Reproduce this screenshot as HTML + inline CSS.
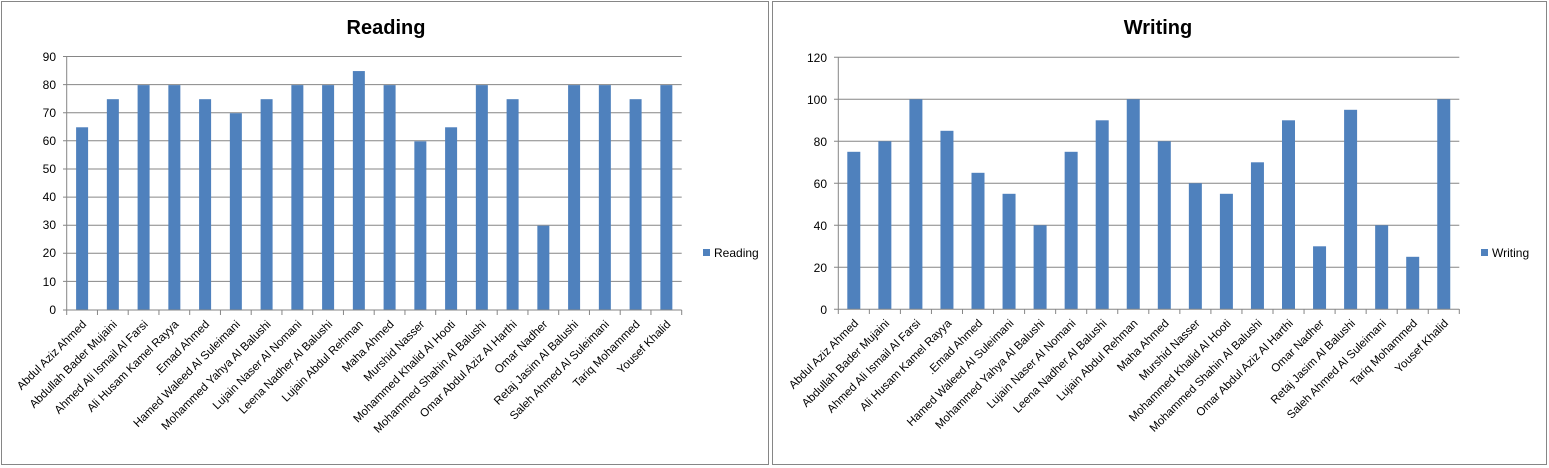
<!DOCTYPE html>
<html><head><meta charset="utf-8"><style>
html,body{margin:0;padding:0;background:#fff;}
svg{display:block;font-family:"Liberation Sans",Arial,sans-serif;}
</style></head><body>
<svg width="1549" height="468" viewBox="0 0 1549 468" xmlns="http://www.w3.org/2000/svg">
<rect x="0" y="0" width="1549" height="468" fill="#fff"/>
<rect x="1.5" y="1.5" width="767" height="463" fill="none" stroke="#868686"/>
<rect x="772.5" y="1.5" width="774" height="463" fill="none" stroke="#868686"/>

<!-- LEFT CHART -->
<text x="386" y="34" font-size="20" font-weight="bold" text-anchor="middle" fill="#000">Reading</text>
<g stroke="#868686" stroke-width="1">
<line x1="63" y1="56.5" x2="681.7" y2="56.5"/><line x1="63" y1="84.6" x2="681.7" y2="84.6"/>
<line x1="63" y1="112.7" x2="681.7" y2="112.7"/><line x1="63" y1="140.8" x2="681.7" y2="140.8"/>
<line x1="63" y1="169" x2="681.7" y2="169"/><line x1="63" y1="197.1" x2="681.7" y2="197.1"/>
<line x1="63" y1="225.2" x2="681.7" y2="225.2"/><line x1="63" y1="253.3" x2="681.7" y2="253.3"/>
<line x1="63" y1="281.4" x2="681.7" y2="281.4"/>
</g>
<g font-size="12" fill="#000" text-anchor="end">
<text x="56" y="61">90</text><text x="56" y="89">80</text><text x="56" y="117">70</text><text x="56" y="145">60</text><text x="56" y="173">50</text><text x="56" y="201">40</text><text x="56" y="229">30</text><text x="56" y="257">20</text><text x="56" y="286">10</text><text x="56" y="314">0</text>
</g>
<g transform="translate(76.1,310) scale(1,-2.811)" fill="#4f81bd">
<rect x="0" y="0" width="12" height="65"/><rect x="30.75" width="12" height="75"/><rect x="61.5" width="12" height="80"/><rect x="92.25" width="12" height="80"/><rect x="123" width="12" height="75"/><rect x="153.75" width="12" height="70"/><rect x="184.5" width="12" height="75"/><rect x="215.25" width="12" height="80"/><rect x="246" width="12" height="80"/><rect x="276.75" width="12" height="85"/><rect x="307.5" width="12" height="80"/><rect x="338.25" width="12" height="60"/><rect x="369" width="12" height="65"/><rect x="399.75" width="12" height="80"/><rect x="430.5" width="12" height="75"/><rect x="461.25" width="12" height="30"/><rect x="492" width="12" height="80"/><rect x="522.75" width="12" height="80"/><rect x="553.5" width="12" height="75"/><rect x="584.25" width="12" height="80"/>
</g>
<g stroke="#868686" stroke-width="1">
<line x1="66.7" y1="56" x2="66.7" y2="310"/><line x1="63" y1="310" x2="681.7" y2="310"/>
<g transform="translate(66.7,0)">
<line x1="0" y1="310" x2="0" y2="315"/><line x1="30.75" y1="310" x2="30.75" y2="315"/><line x1="61.5" y1="310" x2="61.5" y2="315"/><line x1="92.25" y1="310" x2="92.25" y2="315"/><line x1="123" y1="310" x2="123" y2="315"/><line x1="153.75" y1="310" x2="153.75" y2="315"/><line x1="184.5" y1="310" x2="184.5" y2="315"/><line x1="215.25" y1="310" x2="215.25" y2="315"/><line x1="246" y1="310" x2="246" y2="315"/><line x1="276.75" y1="310" x2="276.75" y2="315"/><line x1="307.5" y1="310" x2="307.5" y2="315"/><line x1="338.25" y1="310" x2="338.25" y2="315"/><line x1="369" y1="310" x2="369" y2="315"/><line x1="399.75" y1="310" x2="399.75" y2="315"/><line x1="430.5" y1="310" x2="430.5" y2="315"/><line x1="461.25" y1="310" x2="461.25" y2="315"/><line x1="492" y1="310" x2="492" y2="315"/><line x1="522.75" y1="310" x2="522.75" y2="315"/><line x1="553.5" y1="310" x2="553.5" y2="315"/><line x1="584.25" y1="310" x2="584.25" y2="315"/><line x1="615" y1="310" x2="615" y2="315"/>
</g></g>
<g transform="translate(87,325)" font-size="11.5" fill="#000" text-anchor="end">
<text transform="translate(0,0) rotate(-45)">Abdul Aziz Ahmed</text>
<text transform="translate(30.75,0) rotate(-45)">Abdullah Bader Mujaini</text>
<text transform="translate(61.5,0) rotate(-45)">Ahmed Ali Ismail  Al Farsi</text>
<text transform="translate(92.25,0) rotate(-45)">Ali Husam Kamel Rayya</text>
<text transform="translate(123,0) rotate(-45)">.Emad Ahmed</text>
<text transform="translate(153.75,0) rotate(-45)">Hamed Waleed Al Suleimani</text>
<text transform="translate(184.5,0) rotate(-45)">Mohammed  Yahya Al Balushi</text>
<text transform="translate(215.25,0) rotate(-45)">Lujain Naser Al Nomani</text>
<text transform="translate(246,0) rotate(-45)">Leena Nadher Al Balushi</text>
<text transform="translate(276.75,0) rotate(-45)">Lujain  Abdul Rehman</text>
<text transform="translate(307.5,0) rotate(-45)">Maha Ahmed</text>
<text transform="translate(338.25,0) rotate(-45)">Murshid Nasser</text>
<text transform="translate(369,0) rotate(-45)">Mohammed Khalid Al Hooti</text>
<text transform="translate(399.75,0) rotate(-45)">Mohammed Shahin Al Balushi</text>
<text transform="translate(430.5,0) rotate(-45)">Omar Abdul Aziz Al Harthi</text>
<text transform="translate(461.25,0) rotate(-45)">Omar Nadher</text>
<text transform="translate(492,0) rotate(-45)">Retaj Jasim Al Balushi</text>
<text transform="translate(522.75,0) rotate(-45)">Saleh Ahmed Al Suleimani</text>
<text transform="translate(553.5,0) rotate(-45)">Tariq Mohammed</text>
<text transform="translate(584.25,0) rotate(-45)">Yousef Khalid</text>
</g>
<rect x="703" y="249" width="7" height="7" fill="#4f81bd"/>
<text x="714" y="257" font-size="12" fill="#000">Reading</text>

<!-- RIGHT CHART -->
<text x="1158" y="34" font-size="20" font-weight="bold" text-anchor="middle" fill="#000">Writing</text>
<g stroke="#868686" stroke-width="1">
<line x1="834" y1="57.3" x2="1459.3" y2="57.3"/><line x1="834" y1="99.3" x2="1459.3" y2="99.3"/>
<line x1="834" y1="141.3" x2="1459.3" y2="141.3"/><line x1="834" y1="183.3" x2="1459.3" y2="183.3"/>
<line x1="834" y1="225.3" x2="1459.3" y2="225.3"/><line x1="834" y1="267.3" x2="1459.3" y2="267.3"/>
</g>
<g font-size="12" fill="#000" text-anchor="end">
<text x="827" y="62">120</text><text x="827" y="104">100</text><text x="827" y="146">80</text><text x="827" y="188">60</text><text x="827" y="230">40</text><text x="827" y="272">20</text><text x="827" y="314">0</text>
</g>
<g transform="translate(847.3,309.3) scale(1,-2.1)" fill="#4f81bd">
<rect x="0" width="13" height="75"/><rect x="31.05" width="13" height="80"/><rect x="62.1" width="13" height="100"/><rect x="93.15" width="13" height="85"/><rect x="124.2" width="13" height="65"/><rect x="155.25" width="13" height="55"/><rect x="186.3" width="13" height="40"/><rect x="217.35" width="13" height="75"/><rect x="248.4" width="13" height="90"/><rect x="279.45" width="13" height="100"/><rect x="310.5" width="13" height="80"/><rect x="341.55" width="13" height="60"/><rect x="372.6" width="13" height="55"/><rect x="403.65" width="13" height="70"/><rect x="434.7" width="13" height="90"/><rect x="465.75" width="13" height="30"/><rect x="496.8" width="13" height="95"/><rect x="527.85" width="13" height="40"/><rect x="558.9" width="13" height="25"/><rect x="589.95" width="13" height="100"/>
</g>
<g stroke="#868686" stroke-width="1">
<line x1="838.3" y1="57" x2="838.3" y2="309.3"/><line x1="834" y1="309.3" x2="1459.3" y2="309.3"/>
<g transform="translate(838.3,0)">
<line x1="0" y1="309" x2="0" y2="314"/><line x1="31.05" y1="309" x2="31.05" y2="314"/><line x1="62.1" y1="309" x2="62.1" y2="314"/><line x1="93.15" y1="309" x2="93.15" y2="314"/><line x1="124.2" y1="309" x2="124.2" y2="314"/><line x1="155.25" y1="309" x2="155.25" y2="314"/><line x1="186.3" y1="309" x2="186.3" y2="314"/><line x1="217.35" y1="309" x2="217.35" y2="314"/><line x1="248.4" y1="309" x2="248.4" y2="314"/><line x1="279.45" y1="309" x2="279.45" y2="314"/><line x1="310.5" y1="309" x2="310.5" y2="314"/><line x1="341.55" y1="309" x2="341.55" y2="314"/><line x1="372.6" y1="309" x2="372.6" y2="314"/><line x1="403.65" y1="309" x2="403.65" y2="314"/><line x1="434.7" y1="309" x2="434.7" y2="314"/><line x1="465.75" y1="309" x2="465.75" y2="314"/><line x1="496.8" y1="309" x2="496.8" y2="314"/><line x1="527.85" y1="309" x2="527.85" y2="314"/><line x1="558.9" y1="309" x2="558.9" y2="314"/><line x1="589.95" y1="309" x2="589.95" y2="314"/><line x1="621" y1="309" x2="621" y2="314"/>
</g></g>
<g transform="translate(859,324)" font-size="11.5" fill="#000" text-anchor="end">
<text transform="translate(0,0) rotate(-45)">Abdul Aziz Ahmed</text>
<text transform="translate(31.05,0) rotate(-45)">Abdullah Bader Mujaini</text>
<text transform="translate(62.1,0) rotate(-45)">Ahmed Ali Ismail  Al Farsi</text>
<text transform="translate(93.15,0) rotate(-45)">Ali Husam Kamel Rayya</text>
<text transform="translate(124.2,0) rotate(-45)">.Emad Ahmed</text>
<text transform="translate(155.25,0) rotate(-45)">Hamed Waleed Al Suleimani</text>
<text transform="translate(186.3,0) rotate(-45)">Mohammed  Yahya Al Balushi</text>
<text transform="translate(217.35,0) rotate(-45)">Lujain Naser Al Nomani</text>
<text transform="translate(248.4,0) rotate(-45)">Leena Nadher Al Balushi</text>
<text transform="translate(279.45,0) rotate(-45)">Lujain  Abdul Rehman</text>
<text transform="translate(310.5,0) rotate(-45)">Maha Ahmed</text>
<text transform="translate(341.55,0) rotate(-45)">Murshid Nasser</text>
<text transform="translate(372.6,0) rotate(-45)">Mohammed Khalid Al Hooti</text>
<text transform="translate(403.65,0) rotate(-45)">Mohammed Shahin Al Balushi</text>
<text transform="translate(434.7,0) rotate(-45)">Omar Abdul Aziz Al Harthi</text>
<text transform="translate(465.75,0) rotate(-45)">Omar Nadher</text>
<text transform="translate(496.8,0) rotate(-45)">Retaj Jasim Al Balushi</text>
<text transform="translate(527.85,0) rotate(-45)">Saleh Ahmed Al Suleimani</text>
<text transform="translate(558.9,0) rotate(-45)">Tariq Mohammed</text>
<text transform="translate(589.95,0) rotate(-45)">Yousef Khalid</text>
</g>
<rect x="1481" y="249" width="7" height="7" fill="#4f81bd"/>
<text x="1492" y="257" font-size="12" fill="#000">Writing</text>
</svg>
</body></html>
